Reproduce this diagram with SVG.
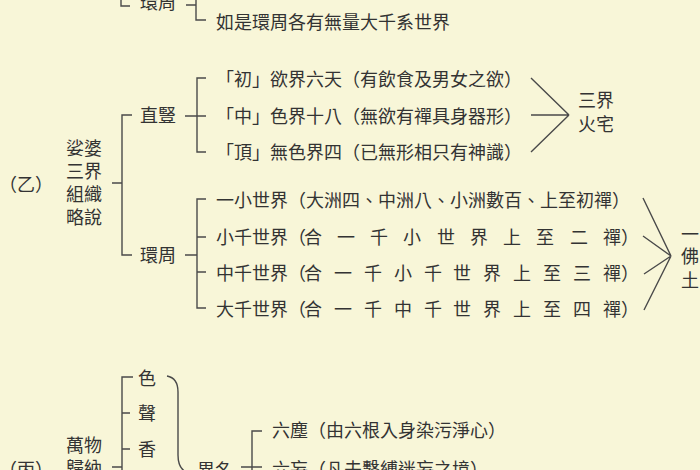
<svg xmlns="http://www.w3.org/2000/svg" width="700" height="470" viewBox="0 0 700 470">
<style>
text{font-family:"Noto Sans CJK TC","Noto Sans CJK SC",sans-serif;font-size:18px;fill:#333;}
.ln{fill:none;stroke:#4a4a4a;stroke-width:1.4;}
</style>
<rect width="700" height="470" fill="#f8f6d8"/>
<g id="connectors" class="ln">
<path d="M121,0 V6 H130"/>
<path d="M186,5 H196 M196,0 V20 H206"/>
<path d="M112,183 H122 M132,115 H122 V255 H132"/>
<path d="M185,116 H206 M206,78 H197 V152 H206"/>
<path d="M531,78 L569,115 M531,115 H569 M531,152 L569,115"/>
<path d="M185,255 H197 M206,199 H197 V308 H206 M197,237 H206 M197,272 H206"/>
<path d="M643,198 L671,256 M643,236 L671,256 M644,274 L671,256 M644,310 L671,256"/>
<path d="M112,467 H122 M133,377 H122 V472 M122,413 H130 M122,449 H130"/>
<path d="M167,376 Q178,378 178,392 V455 Q178,468 186,472"/>
<path d="M241,467 H262 M262,431 H252 V472"/>
</g>
<g id="top-huanzhou"><text x="140" y="9">環周</text></g>
<g id="top-line"><text x="216" y="29">如是環周各有無量大千系世界</text></g>
<g id="yi"><text x="-1" y="191">（乙）</text></g>
<g id="sahe"><text x="66" y="154.5">娑婆</text><text x="66" y="177.5">三界</text><text x="66" y="200.5">組織</text><text x="66" y="223.5">略說</text></g>
<g id="zhishu"><text x="140" y="122">直豎</text></g>
<g id="chu"><text x="216" y="86">「初」欲界六天（有飲食及男女之欲）</text></g>
<g id="zhong"><text x="216" y="122.5">「中」色界十八（無欲有禪具身器形）</text></g>
<g id="ding"><text x="216" y="159">「頂」無色界四（已無形相只有神識）</text></g>
<g id="sanjie"><text x="578" y="106.5">三界</text><text x="578" y="130.5">火宅</text></g>
<g id="huanzhou"><text x="140" y="261.5">環周</text></g>
<g id="w1"><text x="216" y="206.5">一小世界（大洲四、中洲八、小洲數百、上至初禪）</text></g>
<g id="w2"><text x="216" y="243.5">小千世界（</text><text x="304 337 370 403 437 470 503 536 570 603 621" y="243.5">合一千小世界上至二禪）</text></g>
<g id="w3"><text x="216" y="279.5">中千世界（</text><text x="304 334 364 394 424 453 483 513 543 573 603 621" y="279.5">合一千小千世界上至三禪）</text></g>
<g id="w4"><text x="216" y="316">大千世界（</text><text x="304 334 364 394 424 453 483 513 543 573 603 621" y="316">合一千中千世界上至四禪）</text></g>
<g id="fotu"><text x="681" y="240.5">一</text><text x="681" y="263">佛</text><text x="681" y="286.5">土</text></g>
<g id="bing"><text x="-1" y="476">（丙）</text></g>
<g id="wanwu"><text x="66" y="451.5">萬物</text><text x="66" y="474.5">歸納</text></g>
<g id="se"><text x="138" y="384.5">色</text></g>
<g id="sheng"><text x="138" y="419.5">聲</text></g>
<g id="xiang"><text x="138" y="455.5">香</text></g>
<g id="yiming"><text x="197" y="477">異名</text></g>
<g id="liuchen"><text x="272" y="436.5">六塵（由六根入身染污淨心）</text></g>
<g id="liuwang"><text x="272" y="476">六妄（凡夫繫縛迷妄之境）</text></g>
</svg>
